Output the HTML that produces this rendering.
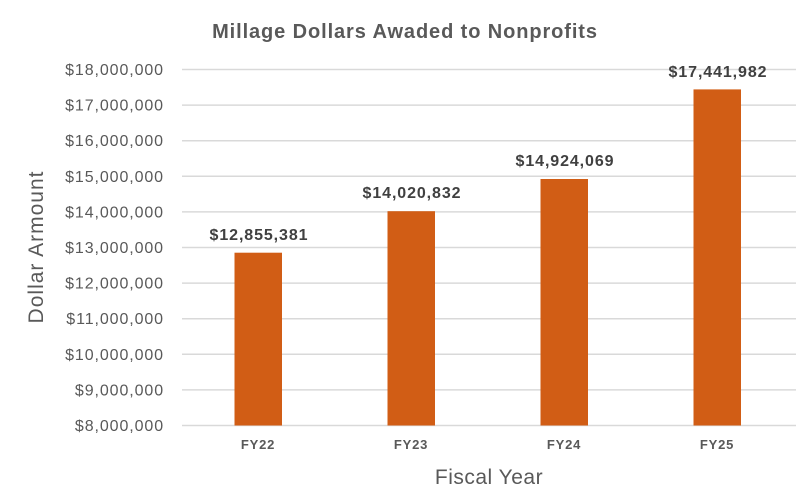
<!DOCTYPE html>
<html><head><meta charset="utf-8"><style>
body{margin:0;background:#fff;}
svg{display:block;font-family:"Liberation Sans",sans-serif;}
</style></head><body>
<svg width="810" height="492" viewBox="0 0 810 492">
<rect width="810" height="492" fill="#fff"/>
<text x="405" y="38" text-anchor="middle" font-size="20" letter-spacing="0.9" font-weight="bold" fill="#595959">Millage Dollars Awaded to Nonprofits</text>
<g stroke="#d9d9d9" stroke-width="1.5">
<line x1="182" x2="796" y1="69.5" y2="69.5"/>
<line x1="182" x2="796" y1="105.1" y2="105.1"/>
<line x1="182" x2="796" y1="140.7" y2="140.7"/>
<line x1="182" x2="796" y1="176.3" y2="176.3"/>
<line x1="182" x2="796" y1="211.9" y2="211.9"/>
<line x1="182" x2="796" y1="247.5" y2="247.5"/>
<line x1="182" x2="796" y1="283.1" y2="283.1"/>
<line x1="182" x2="796" y1="318.7" y2="318.7"/>
<line x1="182" x2="796" y1="354.3" y2="354.3"/>
<line x1="182" x2="796" y1="389.9" y2="389.9"/>
<line x1="182" x2="796" y1="425.5" y2="425.5"/>
</g>
<g font-size="16" letter-spacing="0.9" fill="#595959" text-anchor="end">
<text x="164" y="75">$18,000,000</text>
<text x="164" y="110.6">$17,000,000</text>
<text x="164" y="146.2">$16,000,000</text>
<text x="164" y="181.8">$15,000,000</text>
<text x="164" y="217.4">$14,000,000</text>
<text x="164" y="253">$13,000,000</text>
<text x="164" y="288.6">$12,000,000</text>
<text x="164" y="324.2">$11,000,000</text>
<text x="164" y="359.8">$10,000,000</text>
<text x="164" y="395.4">$9,000,000</text>
<text x="164" y="431">$8,000,000</text>
</g>
<g fill="#d15d15">
<rect x="234.5" y="252.7" width="47.5" height="172.8"/>
<rect x="387.5" y="211.2" width="47.5" height="214.3"/>
<rect x="540.5" y="179.0" width="47.5" height="246.5"/>
<rect x="693.5" y="89.4" width="47.5" height="336.1"/>
</g>
<g font-size="16" letter-spacing="0.9" font-weight="bold" fill="#404040" text-anchor="middle">
<text x="259" y="240">$12,855,381</text>
<text x="412" y="198">$14,020,832</text>
<text x="565" y="166">$14,924,069</text>
<text x="718" y="77">$17,441,982</text>
</g>
<g font-size="13" letter-spacing="0.8" font-weight="bold" fill="#595959" text-anchor="middle">
<text x="258" y="449">FY22</text>
<text x="411" y="449">FY23</text>
<text x="564" y="449">FY24</text>
<text x="717" y="449">FY25</text>
</g>
<text x="489" y="484" text-anchor="middle" font-size="21" letter-spacing="0.5" fill="#595959">Fiscal Year</text>
<text transform="translate(43,247) rotate(-90)" text-anchor="middle" font-size="21" letter-spacing="1" fill="#595959">Dollar Armount</text>
</svg>
</body></html>
